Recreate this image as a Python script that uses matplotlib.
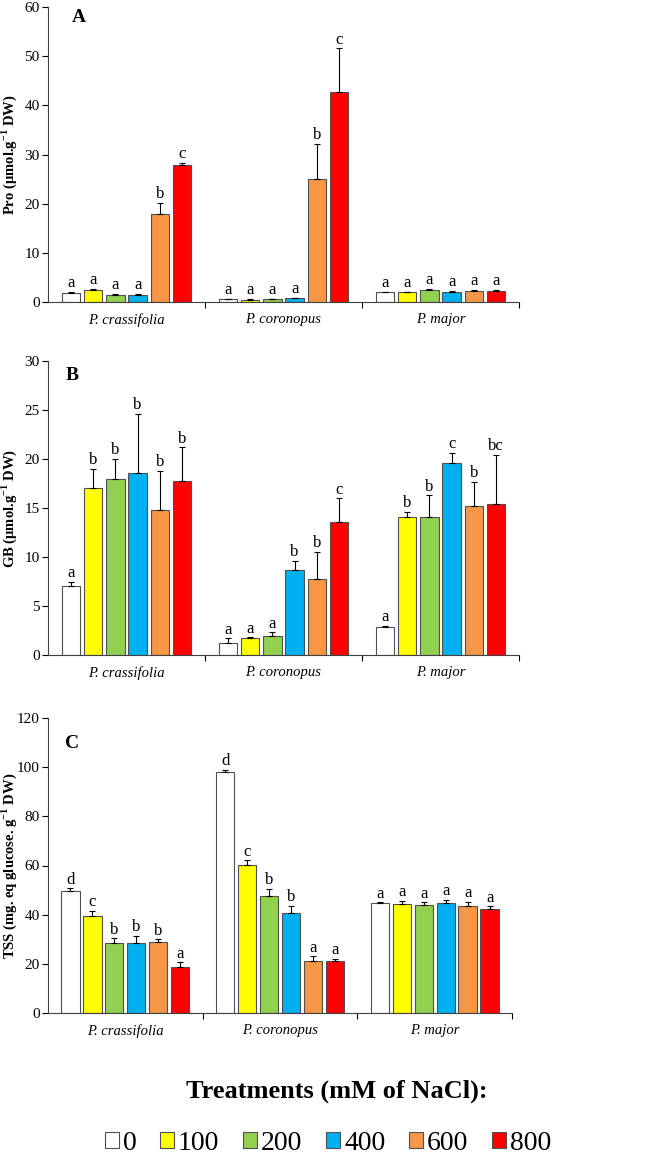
import matplotlib
matplotlib.use("Agg")
import matplotlib.pyplot as plt
from matplotlib.patches import Patch
import numpy as np

plt.rcParams['font.family'] = ['Liberation Serif', 'DejaVu Serif']
plt.rcParams['mathtext.fontset'] = 'custom'
plt.rcParams['mathtext.rm'] = 'Liberation Serif'
plt.rcParams['mathtext.bf'] = 'Liberation Serif:bold'

species = ["P. crassifolia", "P. coronopus", "P. major"]
treatments = ["0", "100", "200", "400", "600", "800"]
colors = ["#FFFFFF", "#FFFF00", "#92D050", "#00B0F0", "#F79646", "#FF0000"]

# Panel A: Pro  (rows = species, cols = treatments)
pro_mean = [[1.76, 2.4, 1.5, 1.5, 18.0, 27.9],
            [0.54, 0.5, 0.6, 0.75, 25.1, 42.7],
            [2.0, 2.0, 2.4, 2.1, 2.3, 2.3]]
pro_err = [[0.25, 0.3, 0.2, 0.15, 2.1, 0.4],
           [0.08, 0.08, 0.08, 0.1, 7.1, 8.9],
           [0.12, 0.12, 0.3, 0.15, 0.12, 0.12]]
pro_let = [["a", "a", "a", "a", "b", "c"],
           ["a", "a", "a", "a", "b", "c"],
           ["a", "a", "a", "a", "a", "a"]]

# Panel B: GB
gb_mean = [[7.0, 17.0, 18.0, 18.6, 14.75, 17.8],
           [1.2, 1.7, 1.9, 8.65, 7.77, 13.57],
           [2.88, 14.08, 14.1, 19.6, 15.2, 15.4]]
gb_err = [[0.5, 2.0, 2.0, 6.0, 4.05, 3.4],
          [0.5, 0.1, 0.4, 0.95, 2.73, 2.43],
          [0.12, 0.52, 2.2, 1.0, 2.5, 5.0]]
gb_let = [["a", "b", "b", "b", "b", "b"],
          ["a", "a", "a", "b", "b", "c"],
          ["a", "b", "b", "c", "b", "bc"]]

# Panel C: TSS
tss_mean = [[49.7, 39.6, 28.5, 28.5, 28.9, 18.8],
            [98.0, 60.2, 47.6, 40.5, 21.1, 21.1],
            [44.6, 44.3, 44.0, 44.8, 43.4, 42.4]]
tss_err = [[1.0, 1.9, 1.9, 2.9, 1.1, 1.8],
           [0.8, 1.9, 2.9, 3.0, 1.9, 1.0],
           [0.4, 1.4, 1.0, 1.2, 1.9, 1.0]]
tss_let = [["d", "c", "b", "b", "b", "a"],
           ["d", "c", "b", "b", "a", "a"],
           ["a", "a", "a", "a", "a", "a"]]

W, H = 652, 1157
panels = [
    dict(mean=pro_mean, err=pro_err, let=pro_let, ymax=60, step=10,
         ylabel=r"Pro ($\mathbf{\mu}$mol.g$^{\mathbf{-1}}$ DW)", tag="A",
         box=(48, 7, 519, 302), tagpos=(79, 18)),
    dict(mean=gb_mean, err=gb_err, let=gb_let, ymax=30, step=5,
         ylabel=r"GB ($\mathbf{\mu}$mol.g$^{\mathbf{-1}}$ DW)", tag="B",
         box=(48, 361, 519, 655), tagpos=(72, 376)),
    dict(mean=tss_mean, err=tss_err, let=tss_let, ymax=120, step=20,
         ylabel=r"TSS (mg. eq glucose. g$^{\mathbf{-1}}$ DW)", tag="C",
         box=(48, 718, 512, 1013), tagpos=(72, 744)),
]

fig = plt.figure(figsize=(W / 100, H / 100), dpi=100)

spacing = 0.142
width = 0.118
offsets = (np.arange(6) - 2.5) * spacing
x = np.arange(len(species))

for p in panels:
    l, t, r, b = p["box"]
    ax = fig.add_axes([l / W, 1 - b / H, (r - l) / W, (b - t) / H])
    mean = np.array(p["mean"])
    err = np.array(p["err"])
    for j in range(6):
        xs = x + offsets[j]
        ax.bar(xs, mean[:, j], width=width, color=colors[j],
               edgecolor="#505050", linewidth=0.8, zorder=2)
        ax.errorbar(xs, mean[:, j], yerr=[np.zeros(3), err[:, j]], fmt="none",
                    ecolor="black", elinewidth=0.8, capsize=2.5, capthick=0.8, zorder=3)
        for i in range(3):
            ax.annotate(p["let"][i][j], (xs[i], mean[i, j] + err[i, j]),
                        xytext=(0, 0.5), textcoords="offset points",
                        ha="center", va="bottom", fontsize=12)
    ax.set_xlim(-0.5, 2.5)
    ax.set_ylim(0, p["ymax"])
    ax.set_yticks(np.arange(0, p["ymax"] + 0.1, p["step"]))
    ax.set_xticks(x)
    ax.set_xticklabels(species, fontstyle="italic", fontsize=10.5)
    ax.set_xticks([0.5, 1.5, 2.5], minor=True)
    ax.tick_params(axis="x", which="major", length=0, pad=8)
    ax.tick_params(axis="x", which="minor", length=4, direction="out", width=0.8)
    ax.tick_params(axis="y", length=4, direction="out", width=0.8, labelsize=11, pad=2)
    for s in ["top", "right"]:
        ax.spines[s].set_visible(False)
    for s in ["left", "bottom"]:
        ax.spines[s].set_linewidth(0.8)
        ax.spines[s].set_color("#404040")
    ax.set_ylabel(p["ylabel"], fontweight="bold", fontsize=10.5)
    ax.yaxis.set_label_coords((19 - l) / (r - l), 0.5)
    fig.text(p["tagpos"][0] / W, 1 - p["tagpos"][1] / H, p["tag"], fontsize=14,
             fontweight="bold", ha="center", va="center")

fig.text(337 / W, 1 - 1091 / H, "Treatments (mM of NaCl):", fontsize=19,
         fontweight="bold", ha="center", va="center")

handles = [Patch(facecolor=c, edgecolor="#505050", linewidth=0.8) for c in colors]
fig.legend(handles, treatments, loc="center", bbox_to_anchor=(328 / W, 1 - 1143 / H),
           ncol=6, frameon=False, fontsize=20, handlelength=0.5, handleheight=0.5,
           handletextpad=0.15, columnspacing=0.85, borderaxespad=0)

fig.savefig("out.png", dpi=100)
